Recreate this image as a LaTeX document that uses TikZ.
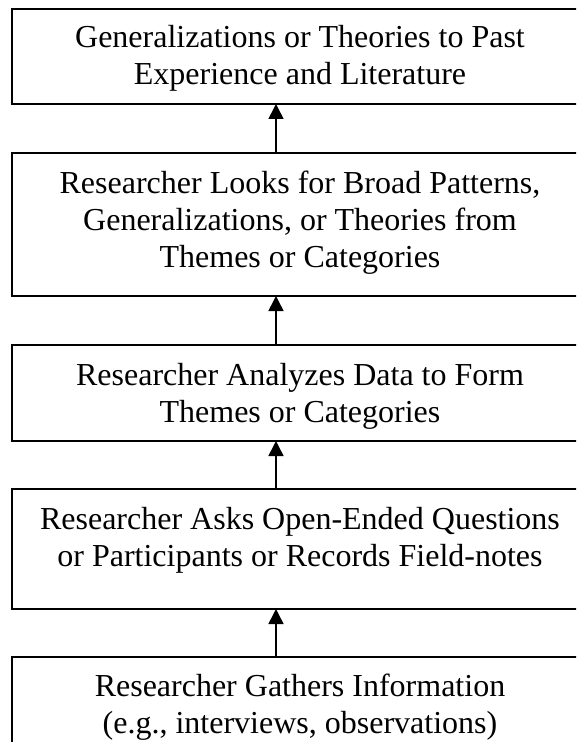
\documentclass[tikz,border=0pt]{standalone}
\usepackage{fontspec}
\setmainfont{Liberation Serif}
\usetikzlibrary{arrows.meta}
\begin{document}
\begin{tikzpicture}[x=1pt,y=-1pt,
  stage/.style={draw=black, line width=2pt, rectangle, inner sep=0pt, outer sep=0pt, minimum width=576pt},
  caption/.style={anchor=base, inner sep=0pt, font=\fontsize{32}{37}\selectfont},
  flow/.style={line width=1.6pt, -{Triangle[width=15pt,length=15pt]}}]
\useasboundingbox (0,0) rectangle (576,749);
\clip (0,0) rectangle (576,741);
% stage frames (the frames run past the right edge)
\node[stage, minimum height=95pt]  (b1) at (300,56.5) {};
\node[stage, minimum height=143pt] (b2) at (300,224.5) {};
\node[stage, minimum height=96pt]  (b3) at (300,393) {};
\node[stage, minimum height=120pt] (b4) at (300,549) {};
\node[stage, minimum height=113pt] (b5) at (300,713.5) {};
% stage texts, first baseline given
\node[caption] (t1) at (300,48) {\begin{tabular}[t]{@{}c@{}}Generalizations or Theories to Past\\Experience and Literature\end{tabular}};
\node[caption] (t2) at (300,193) {\begin{tabular}[t]{@{}c@{}}Researcher Looks for Broad Patterns,\\Generalizations, or Theories from\\Themes or Categories\end{tabular}};
\node[caption] (t3) at (300,385) {\begin{tabular}[t]{@{}c@{}}Researcher Analyzes Data to Form\\Themes or Categories\end{tabular}};
\node[caption] (t4) at (300,529) {\begin{tabular}[t]{@{}c@{}}Researcher Asks Open-Ended Questions\\or Participants or Records Field-notes\end{tabular}};
\node[caption] (t5) at (300,696) {\begin{tabular}[t]{@{}c@{}}Researcher Gathers Information\\(e.g., interviews, observations)\end{tabular}};
% upward arrows
\coordinate (ax) at (276,0);
\draw[flow] (b5.north -| ax) -- (b4.south -| ax);
\draw[flow] (b4.north -| ax) -- (b3.south -| ax);
\draw[flow] (b3.north -| ax) -- (b2.south -| ax);
\draw[flow] (b2.north -| ax) -- (b1.south -| ax);
\end{tikzpicture}
\end{document}
